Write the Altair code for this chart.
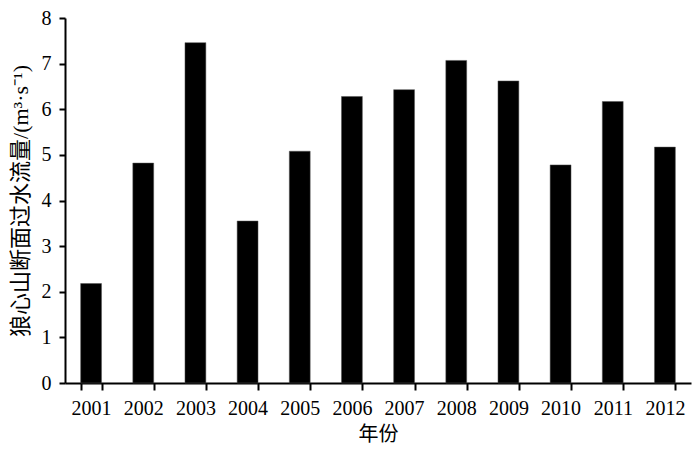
import altair as alt
import pandas as pd

years = ["2001", "2002", "2003", "2004", "2005", "2006", "2007", "2008", "2009", "2010", "2011", "2012"]
flow = [2.18, 4.82, 7.46, 3.55, 5.08, 6.28, 6.43, 7.07, 6.62, 4.78, 6.17, 5.17]

df = pd.DataFrame({"year": years, "flow": flow})

font = "Liberation Serif, Times New Roman, Noto Sans CJK SC"

chart = alt.Chart(df).mark_bar(color="black", stroke="#555", strokeWidth=0.5).encode(
    x=alt.X("year:N", title="年份", sort=years,
            scale=alt.Scale(paddingInner=0.6, paddingOuter=0.3),
            axis=alt.Axis(labelAngle=0, tickBand="extent", tickSize=7, labelPadding=8,
                          titlePadding=6, labelFontSize=20, titleFontSize=20,
                          labelFont=font, titleFont=font)),
    y=alt.Y("flow:Q", title="狼心山断面过水流量/(m³·s⁻¹)",
            scale=alt.Scale(domain=[0, 8], nice=False),
            axis=alt.Axis(values=list(range(0, 9)), tickSize=6, labelPadding=8,
                          titlePadding=9, grid=False, labelFontSize=20, titleFontSize=22,
                          titleLimit=400, labelFont=font, titleFont=font)),
).properties(
    width=626, height=365,
    autosize=alt.AutoSizeParams(type="none"),
    padding={"left": 57, "top": 10, "right": 1, "bottom": 60},
).configure_view(stroke=None).configure_axis(
    domainColor="black", domainWidth=2, tickColor="black", tickWidth=2,
    labelColor="black", titleColor="black", titleFontWeight="normal", grid=False,
)

chart.save("out.html", embed_options={"renderer": "svg", "actions": False})
